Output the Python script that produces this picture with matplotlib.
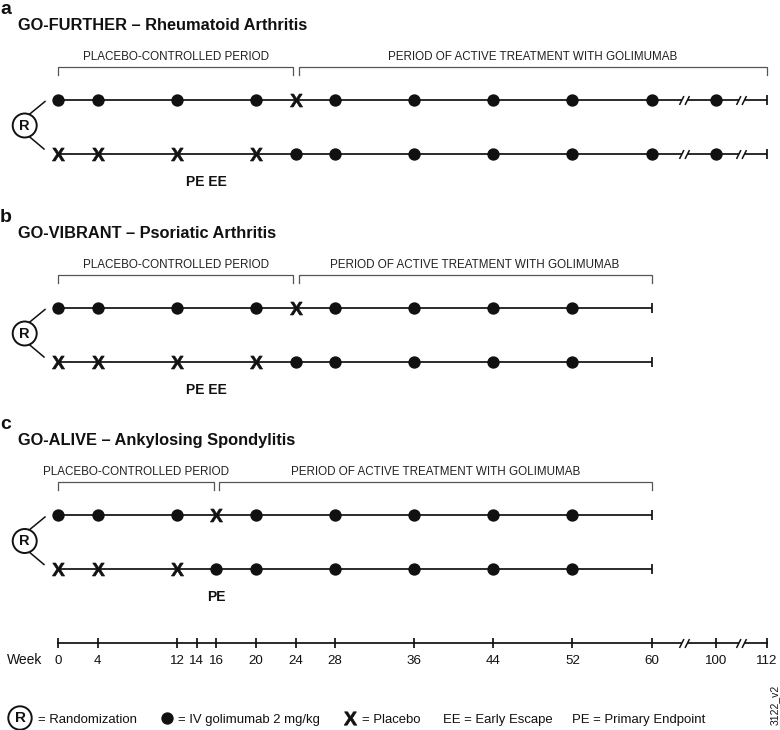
import numpy as np
import matplotlib
matplotlib.use('Agg')
import matplotlib.pyplot as plt
from matplotlib.path import Path
from matplotlib.patches import Circle

plt.rcParams['font.family'] = ['Liberation Sans', 'DejaVu Sans']
plt.rcParams['mathtext.fontset'] = 'custom'
plt.rcParams['mathtext.bf'] = 'Liberation Sans:bold'
plt.rcParams['mathtext.rm'] = 'Liberation Sans'

# ---------------- data ----------------
week_ticks = [0, 4, 12, 14, 16, 20, 24, 28, 36, 44, 52, 60, 100, 112]
axis_breaks = [80, 106]

panel_letters = ['a', 'b', 'c']
studies = ['GO-FURTHER – Rheumatoid Arthritis',
           'GO-VIBRANT – Psoriatic Arthritis',
           'GO-ALIVE – Ankylosing Spondylitis']
study_end = [112, 60, 60]
crossover_week = [24, 24, 16]

# arm randomised to golimumab (upper row)
gol_arm_iv = [[0, 4, 12, 20, 28, 36, 44, 52, 60, 100],
              [0, 4, 12, 20, 28, 36, 44, 52],
              [0, 4, 12, 20, 28, 36, 44, 52]]
gol_arm_pbo = [[24], [24], [16]]
# arm randomised to placebo (lower row)
pbo_arm_iv = [[24, 28, 36, 44, 52, 60, 100],
              [24, 28, 36, 44, 52],
              [16, 20, 28, 36, 44, 52]]
pbo_arm_pbo = [[0, 4, 12, 20],
               [0, 4, 12, 20],
               [0, 4, 12]]

endpoint_text = ['PE EE', 'PE EE', 'PE']
endpoint_week = [15, 15, 16]

period_labels = ['PLACEBO-CONTROLLED PERIOD',
                 'PERIOD OF ACTIVE TREATMENT WITH GOLIMUMAB']

legend_items = ['= Randomization', '= IV golimumab 2 mg/kg', '= Placebo',
                'EE = Early Escape', 'PE = Primary Endpoint']

# ---------------- layout ----------------
W_PX, H_PX = 780, 730
PX_PER_WEEK = 9.887
X0 = 58.3
W_knots = np.array([-1000., 60., 100., 112., 1000.])
P_knots = np.array([-1000., 60., 66.52, 71.65, 71.65 + 888 * 0.4275])


def fwd(w):
    return np.interp(w, W_knots, P_knots)


def inv(p):
    return np.interp(p, P_knots, W_knots)


fig = plt.figure(figsize=(W_PX / 100, H_PX / 100), dpi=100)
deco = fig.add_axes([0, 0, 1, 1])
deco.set_xlim(0, W_PX)
deco.set_ylim(H_PX, 0)
deco.axis('off')

ax = fig.add_axes([0, 0, 1, 1])
ax.set_xscale('function', functions=(fwd, inv))
ax.set_xlim(inv(-X0 / PX_PER_WEEK), inv((W_PX - X0) / PX_PER_WEEK))
ax.set_ylim(H_PX, 0)
ax.axis('off')
ax.patch.set_alpha(0)

slash_marker = Path([(-0.9, -0.8), (-0.1, 0.8), (0.1, -0.8), (0.9, 0.8)],
                    [Path.MOVETO, Path.LINETO, Path.MOVETO, Path.LINETO])
gap_marker = Path([(-1, -0.6), (1, -0.6), (1, 0.6), (-1, 0.6), (-1, -0.6)],
                  [Path.MOVETO, Path.LINETO, Path.LINETO, Path.LINETO, Path.CLOSEPOLY])
X_MARK = r'$\mathbf{X}$'
LW = 1.25
DOT_MS = 8.9
X_MS = 9.3
INK = '#111111'


def timeline(y, end, iv, pbo, end_tick=True):
    ax.plot([0, end], [y, y], color=INK, lw=LW, zorder=2, solid_capstyle='butt')
    brk = [b for b in axis_breaks if b < end]
    if brk:
        ax.plot(brk, [y] * len(brk), linestyle='none', marker=gap_marker,
                ms=3.6, mfc='white', mec='white', mew=0, zorder=3)
        ax.plot(brk, [y] * len(brk), linestyle='none', marker=slash_marker,
                ms=7.2, mfc='none', mec=INK, mew=1.1, zorder=4)
    if end_tick:
        ax.plot([end], [y], linestyle='none', marker='|', ms=6.8, mew=LW,
                color=INK, zorder=4)
    ax.plot(iv, [y] * len(iv), linestyle='none', marker='o', ms=DOT_MS,
            mfc=INK, mec=INK, mew=0, zorder=5)
    ax.plot(pbo, [y] * len(pbo), linestyle='none', marker=X_MARK, ms=X_MS,
            mfc=INK, mec=INK, mew=0.5, zorder=5)


def bracket(x0, x1, y, label, label_y):
    ax.plot([x0, x0, x1, x1], [y + 8, y, y, y + 8], color='#555555', lw=0.9,
            zorder=2, solid_joinstyle='miter')
    xc = inv((fwd(x0) + fwd(x1)) / 2)
    ax.text(xc, label_y, label, ha='center', va='center', fontsize=8.35,
            color='#222222')


def r_circle(cx, cy, r, fs):
    deco.add_patch(Circle((cx, cy), r, fill=False, lw=1.4, ec=INK, zorder=3))
    deco.text(cx, cy + 0.3, 'R', ha='center', va='center', fontsize=fs,
              fontweight='bold', color=INK)


row_base = [99.5, 307.5, 515.0]
for i in range(3):
    y1 = row_base[i]
    y2 = y1 + 54.3
    yr = y1 + 26
    deco.text(0, y1 - 85.6, panel_letters[i], fontsize=14, fontweight='bold',
              va='baseline', ha='left', color=INK)
    deco.text(18, y1 - 69.5, studies[i], fontsize=11.8, fontweight='bold',
              va='baseline', ha='left', color=INK)
    cw = crossover_week[i]
    bracket(0, cw - 0.25, y1 - 33, period_labels[0], y1 - 42.8)
    bracket(cw + 0.3, study_end[i], y1 - 33, period_labels[1], y1 - 42.8)
    timeline(y1, study_end[i], gol_arm_iv[i], gol_arm_pbo[i])
    timeline(y2, study_end[i], pbo_arm_iv[i], pbo_arm_pbo[i])
    ax.text(endpoint_week[i], y1 + 82.3, endpoint_text[i], ha='center',
            va='center', fontsize=10, fontweight='bold', color=INK)
    # randomisation
    cx = 24.7
    r_circle(cx, yr, 12, 10.5)
    deco.plot([cx + 5.3, 45], [yr - 11.7, yr - 24], color=INK, lw=1.1)
    deco.plot([cx + 5.3, 44], [yr + 11.7, yr + 23.5], color=INK, lw=1.1)

# ---------------- week axis ----------------
ya = 643.3
ax.plot([0, week_ticks[-1]], [ya, ya], color=INK, lw=LW, zorder=2)
ax.plot(axis_breaks, [ya] * len(axis_breaks), linestyle='none', marker=gap_marker,
        ms=3.6, mfc='white', mec='white', mew=0, zorder=3)
ax.plot(axis_breaks, [ya] * len(axis_breaks), linestyle='none', marker=slash_marker,
        ms=7.2, mfc='none', mec=INK, mew=1.1, zorder=4)
ax.plot(week_ticks, [ya] * len(week_ticks), linestyle='none', marker='|', ms=6.5,
        mew=LW, color=INK, zorder=4)
for w in week_ticks:
    ax.text(w, 664.3, str(w), ha='center', va='baseline', fontsize=9.6,
            color=INK)
deco.text(6.7, 664.3, 'Week', ha='left', va='baseline', fontsize=10,
          color=INK)

# ---------------- legend ----------------
yl = 718
LFS = 9.45
r_circle(20, yl, 11.7, 11)
deco.text(38, yl + 5, legend_items[0], ha='left', va='baseline', fontsize=LFS,
          color=INK)
deco.plot([167], [yl], marker='o', ms=DOT_MS, mfc=INK, mec=INK, mew=0)
deco.text(178, yl + 5, legend_items[1], ha='left', va='baseline', fontsize=LFS,
          color=INK)
deco.plot([350], [yl], marker=X_MARK, ms=9.6, mfc=INK, mec=INK, mew=0.5)
deco.text(362, yl + 5, legend_items[2], ha='left', va='baseline', fontsize=LFS,
          color=INK)
deco.text(443, yl + 5, legend_items[3], ha='left', va='baseline', fontsize=LFS,
          color=INK)
deco.text(572, yl + 5, legend_items[4], ha='left', va='baseline', fontsize=LFS,
          color=INK)
deco.text(775, 705, '3122_v2', rotation=90, ha='center', va='center',
          fontsize=7.5, color=INK)

fig.savefig('out.png', dpi=100)
